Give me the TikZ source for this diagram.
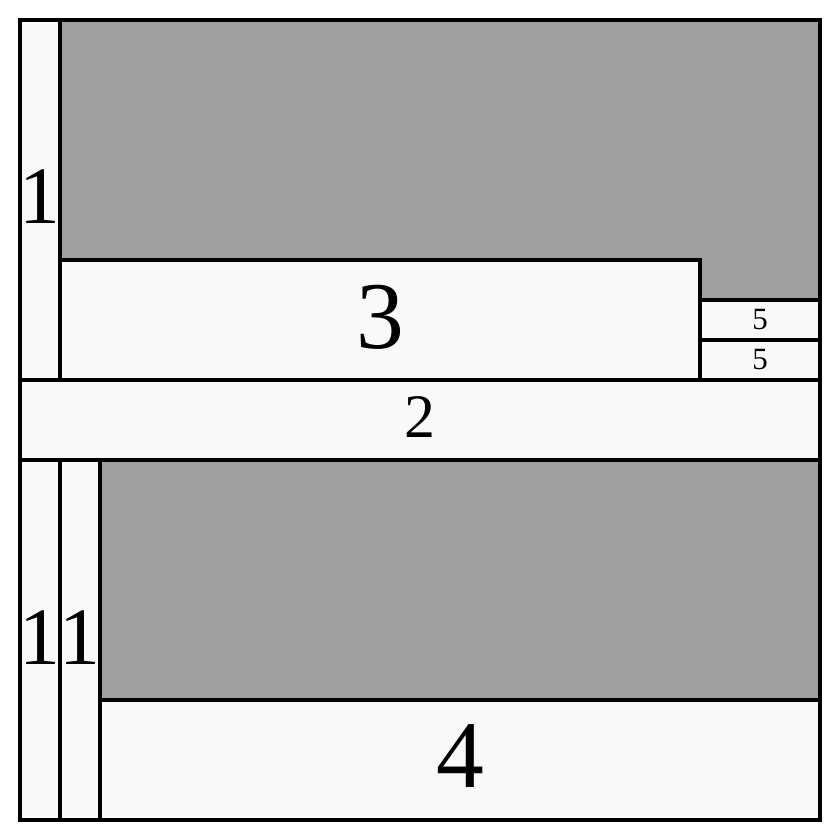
\documentclass[tikz,border=0pt]{standalone}
\usepackage{fontspec}
\setmainfont{Liberation Serif}
\definecolor{lightfill}{HTML}{F9F9F9}
\definecolor{greyfill}{HTML}{9F9F9F}
\tikzset{
  piece/.style={draw=black, line width=2.8pt, fill=lightfill},
  greyarea/.style={draw=black, line width=2.8pt, fill=greyfill},
  lbl/.style={inner sep=0pt, anchor=center},
  fa/.style={font=\fontsize{58}{60}\selectfont},
  fb/.style={font=\fontsize{68}{70}\selectfont},
  fc/.style={font=\fontsize{44}{46}\selectfont},
  fd/.style={font=\fontsize{22}{24}\selectfont}
}
\begin{document}
\begin{tikzpicture}
\useasboundingbox (0,0) rectangle (21,-21);
\path[greyarea] (0.5,-0.5) rectangle (20.5,-20.5);
% pieces
\path[piece] (0.5,-0.5) rectangle (1.5,-9.5);
\path[piece] (1.5,-6.5) rectangle (17.5,-9.5);
\path[piece] (17.5,-7.5) rectangle (20.5,-8.5);
\path[piece] (17.5,-8.5) rectangle (20.5,-9.5);
\path[piece] (0.5,-9.5) rectangle (20.5,-11.5);
\path[piece] (0.5,-11.5) rectangle (1.5,-20.5);
\path[piece] (1.5,-11.5) rectangle (2.5,-20.5);
\path[piece] (2.5,-17.5) rectangle (20.5,-20.5);
\draw[line width=2.8pt] (0.5,-0.5) rectangle (20.5,-20.5);
% labels
\node[lbl,fa] (l1a) at (1,-4.92) {1};
\node[lbl,fb] (l3) at (9.5,-7.93) {3};
\node[lbl,fd] (l5a) at (19,-7.98) {5};
\node[lbl,fd] (l5b) at (19,-8.98) {5};
\node[lbl,fc] (l2) at (10.5,-10.42) {2};
\node[lbl,fa] (l1b) at (1,-15.93) {1};
\node[lbl,fa] (l1c) at (2,-15.93) {1};
\node[lbl,fb] (l4) at (11.5,-18.9) {4};
\end{tikzpicture}
\end{document}
